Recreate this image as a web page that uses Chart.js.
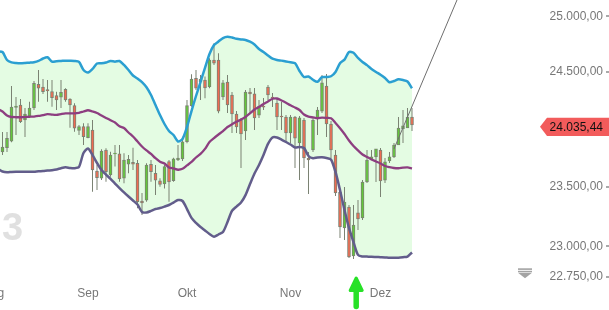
<!DOCTYPE html>
<html>
<head>
<meta charset="utf-8">
<script src="https://cdn.jsdelivr.net/npm/chart.js@4.4.1/dist/chart.umd.min.js"></script>
<style>
  html, body { margin: 0; padding: 0; background: #fff; overflow: hidden; }
  #wrap { position: absolute; left: -40px; top: 0; width: 649px; height: 310px; }
</style>
</head>
<body>
<div id="wrap"><canvas id="myChart" width="649" height="310"></canvas></div>
<script>
const ctx = document.getElementById("myChart").getContext("2d");

// x axis: one slot per trading day, index 0 = 1 Aug
const monthStart = [0, 21, 43, 66, 86];
const monthLabels = ["Aug", "Sep", "Okt", "Nov", "Dez"];
const yTicks = [22750, 23000, 23500, 24500, 25000];

// daily candles
const open = [
  23960, 23560, 23801, 23838, 23895, 24187, 24209, 24078, 24107, 24183,
  24391, 24367, 24345, 24326, 24291, 24277, 24347, 24262, 24203, 23988,
  24020, 23924, 23991, 23637, 23575, 23818, 23603, 23784, 23784, 23575,
  23695, 23712, 23704, 23382, 23390, 23695, 23618, 23554, 23526, 23718,
  23554, 23732, 23741, 23889, 24203, 24444, 24411, 24429, 24367, 24607,
  24607, 24279, 24411, 24297, 24130, 24078, 23982, 24323, 24306, 24121,
  24200, 24367, 24279, 24226, 24113, 24104, 23965, 24104, 23878, 24078,
  23749, 23818, 24096, 24156, 24376, 24043, 23775, 23458, 23155, 23331,
  22921, 23281, 23239, 23543, 23732, 23758, 23818, 23560, 23723, 23758,
  23861, 24000, 24008, 24104
];
const high = [
  24000, 23790, 23974, 23974, 24376, 24279, 24262, 24183, 24238, 24420,
  24518, 24438, 24429, 24429, 24326, 24429, 24356, 24268, 24224, 24034,
  24049, 24049, 24078, 23689, 23824, 23833, 23803, 23861, 23861, 23789,
  23775, 23838, 23732, 23450, 23704, 23732, 23689, 23575, 23689, 23732,
  23752, 23861, 23933, 24253, 24480, 24518, 24474, 24459, 24622, 24756,
  24666, 24429, 24474, 24323, 24156, 24096, 24341, 24359, 24359, 24253,
  24270, 24385, 24315, 24270, 24235, 24121, 24121, 24113, 24113, 24096,
  23801, 24096, 24191, 24474, 24482, 24069, 23818, 23475, 23501, 23348,
  23348, 23390, 23560, 23818, 23818, 23827, 23836, 23749, 23801, 23878,
  24104, 24165, 24183, 24183
];
const low = [
  23420, 23500, 23775, 23801, 23884, 23947, 24052, 23930, 24096, 24165,
  24238, 24306, 24238, 24194, 24165, 24183, 24238, 24011, 23976, 23947,
  23861, 23919, 23460, 23475, 23560, 23545, 23589, 23675, 23545, 23532,
  23618, 23646, 23320, 23264, 23376, 23545, 23432, 23503, 23489, 23376,
  23545, 23723, 23723, 23875, 24194, 24341, 24253, 24268, 24356, 24563,
  24136, 24253, 24139, 23965, 23965, 23663, 23904, 24139, 23991, 24096,
  24165, 24253, 24191, 23991, 23991, 23887, 23878, 23663, 23560, 23663,
  23441, 23801, 23947, 24139, 23930, 23749, 23424, 23071, 23054, 22905,
  22896, 23138, 23222, 23535, 23732, 23543, 23416, 23535, 23706, 23749,
  23861, 23878, 24008, 23982
];
const close = [
  23430, 23760, 23844, 23919, 24191, 24200, 24063, 24130, 24183, 24400,
  24356, 24326, 24332, 24273, 24253, 24321, 24253, 24209, 24006, 24020,
  23933, 24020, 23646, 23580, 23809, 23631, 23775, 23792, 23569, 23732,
  23738, 23695, 23376, 23365, 23689, 23631, 23560, 23523, 23675, 23545,
  23741, 23749, 23889, 24203, 24438, 24356, 24438, 24359, 24607, 24578,
  24156, 24403, 24209, 24130, 24017, 23956, 24323, 24306, 24096, 24200,
  24191, 24297, 24270, 24104, 24104, 23965, 24104, 23921, 24096, 23749,
  23732, 24078, 24165, 24403, 24043, 23818, 23450, 23163, 23373, 22913,
  23180, 23230, 23543, 23732, 23758, 23827, 23552, 23715, 23758, 23861,
  24008, 24026, 24104, 24035.44
];

// Bollinger bands
const bbUpper = [
  24687, 24683, 24678, 24607, 24585, 24580, 24578, 24580, 24583, 24587,
  24598, 24620, 24631, 24592, 24596, 24598, 24601, 24600, 24598, 24589,
  24518, 24496, 24527, 24576, 24578, 24585, 24598, 24592, 24598, 24563,
  24518, 24469, 24442, 24411, 24365, 24297, 24209, 24121, 24043, 23982,
  23947, 23891, 23913, 24017, 24156, 24288, 24411, 24536, 24660, 24740,
  24772, 24803, 24815, 24808, 24796, 24790, 24786, 24770, 24745, 24705,
  24678, 24647, 24618, 24607, 24601, 24594, 24586, 24578, 24509, 24456,
  24460, 24431, 24414, 24454, 24456, 24462, 24500, 24578, 24610, 24678,
  24671, 24625, 24589, 24561, 24527, 24500, 24476, 24447, 24409, 24420,
  24435, 24429, 24416, 24356
];
const bbMid = [
  24191, 24174, 24152, 24117, 24104, 24102, 24102, 24104, 24106, 24108,
  24113, 24121, 24129, 24125, 24123, 24130, 24136, 24136, 24136, 24141,
  24152, 24163, 24152, 24139, 24117, 24096, 24075, 24056, 24023, 24008,
  23969, 23934, 23891, 23848, 23814, 23784, 23747, 23717, 23702, 23668,
  23659, 23648, 23656, 23685, 23715, 23753, 23784, 23827, 23887, 23921,
  23952, 23982, 24017, 24041, 24063, 24082, 24104, 24136, 24169, 24191,
  24218, 24240, 24264, 24266, 24249, 24229, 24206, 24187, 24165, 24126,
  24107, 24100, 24093, 24098, 24096, 24093, 24052, 24006, 23956, 23900,
  23852, 23814, 23779, 23758, 23736, 23719, 23702, 23680, 23670, 23663,
  23661, 23666, 23668, 23660
];
const bbLower = [
  23663, 23655, 23633, 23626, 23629, 23631, 23631, 23631, 23631, 23631,
  23635, 23637, 23641, 23644, 23650, 23661, 23669, 23663, 23661, 23672,
  23792, 23831, 23775, 23706, 23646, 23607, 23570, 23530, 23492, 23455,
  23420, 23386, 23352, 23289, 23285, 23298, 23314, 23323, 23335, 23348,
  23369, 23390, 23382, 23314, 23239, 23197, 23163, 23134, 23104, 23082,
  23100, 23121, 23205, 23298, 23335, 23369, 23432, 23526, 23616, 23689,
  23775, 23870, 23926, 23926, 23908, 23887, 23865, 23839, 23844, 23835,
  23766, 23747, 23753, 23755, 23749, 23736, 23629, 23475, 23306, 23155,
  23037, 22930, 22917, 22916, 22915, 22913, 22911, 22909, 22906, 22906,
  22907, 22911, 22916, 22950
];

// drawn trend line (start / end)
const trendIdx = [89, 104];
const trendVal = [23827, 25244];

const lastPrice = close[close.length - 1];
const arrowIdx = 80.6;

const UP = "#63c73b";
const DOWN = "#ef6b52";
const EDGE = "#7b8273";
const FONT = "'Liberation Sans', Arial, sans-serif";

const fmt = (v) => {
  const [a, b] = Number(v).toFixed(2).split(".");
  return a.replace(/\B(?=(\d{3})+(?!\d))/g, ".") + "," + b;
};

const toPoints = (arr) => arr.map((v, i) => ({ x: i, y: v }));

const bodies = open.map((o, i) => {
  let lo = Math.min(o, close[i]);
  let hi = Math.max(o, close[i]);
  if (hi - lo < 8) { const m = (hi + lo) / 2; lo = m - 4; hi = m + 4; }
  return { x: i, y: [lo, hi] };
});
const wicks = open.map((o, i) => ({ x: i, y: [low[i], high[i]] }));
const candleColors = open.map((o, i) => (close[i] >= o ? UP : DOWN));

// extra drawing: watermark, price tag, tick dashes, icons
const decor = {
  id: "decor",
  beforeDatasetsDraw(chart) {
    const c = chart.ctx;
    c.save();
    c.fillStyle = "#e0e0e0";
    c.font = "bold 38px " + FONT;
    c.textBaseline = "alphabetic";
    c.fillText("3", 42, 240);
    c.restore();
  },
  afterDraw(chart) {
    const c = chart.ctx;
    const ys = chart.scales.y;
    const xs = chart.scales.x;
    const W = chart.width;
    c.save();

    // small tick dashes at the right edge
    c.fillStyle = "#555";
    yTicks.forEach((v) => c.fillRect(W - 3, Math.round(ys.getPixelForValue(v)) - 0.5, 3, 1));

    // last price tag
    const py = ys.getPixelForValue(lastPrice) + 2;
    c.fillStyle = "#f25b5b";
    c.beginPath();
    c.moveTo(W - 69, py);
    c.lineTo(W - 62, py - 9.2);
    c.lineTo(W, py - 9.2);
    c.lineTo(W, py + 9.2);
    c.lineTo(W - 62, py + 9.2);
    c.closePath();
    c.fill();
    c.fillStyle = "#111";
    c.font = "12px " + FONT;
    c.textAlign = "right";
    c.textBaseline = "middle";
    c.fillText(fmt(lastPrice), W - 6, py + 0.5);

    // collapse icon
    c.fillStyle = "#a3a3a3";
    c.fillRect(558, 268.3, 14, 1.6);
    c.fillRect(558, 270.8, 14, 1.4);
    c.beginPath();
    c.moveTo(558, 272.7);
    c.lineTo(572, 272.7);
    c.lineTo(565, 278.3);
    c.closePath();
    c.fill();

    // green arrow
    const cx = xs.getPixelForValue(arrowIdx);
    c.fillStyle = "#27e127";
    c.strokeStyle = "#27e127";
    c.lineJoin = "round";
    c.lineCap = "round";
    c.lineWidth = 3;
    c.beginPath();
    c.moveTo(cx, 278);
    c.lineTo(cx + 6, 290.5);
    c.lineTo(cx - 6, 290.5);
    c.closePath();
    c.fill();
    c.stroke();
    c.lineWidth = 5.5;
    c.beginPath();
    c.moveTo(cx, 284);
    c.lineTo(cx, 306.5);
    c.stroke();

    c.restore();
  }
};

const myChart = new Chart(ctx, {
  type: "bar",
  data: {
    datasets: [
      {
        type: "line", label: "Upper", data: toPoints(bbUpper), order: 0,
        borderColor: "#2b9fd1", borderWidth: 2.5, pointRadius: 0, tension: 0.25, fill: false
      },
      {
        type: "line", label: "Mid", data: toPoints(bbMid), order: 0,
        borderColor: "#8d3e80", borderWidth: 2.3, pointRadius: 0, tension: 0.25, fill: false
      },
      {
        type: "line", label: "Lower", data: toPoints(bbLower), order: 0,
        borderColor: "#625d8b", borderWidth: 2.5, pointRadius: 0, tension: 0.25,
        fill: "-2", backgroundColor: "#e4fce3"
      },
      {
        type: "line", label: "Trend", order: 0,
        data: trendIdx.map((x, i) => ({ x: x, y: trendVal[i] })),
        borderColor: "#6e6e6e", borderWidth: 1, pointRadius: 0, fill: false
      },
      {
        label: "Body", data: bodies, order: 1, grouped: false,
        barThickness: 3, backgroundColor: candleColors,
        borderColor: EDGE, borderWidth: 1, borderSkipped: false
      },
      {
        label: "Wick", data: wicks, order: 2, grouped: false,
        barThickness: 1, inflateAmount: 0, backgroundColor: EDGE, borderWidth: 0
      }
    ]
  },
  options: {
    responsive: false,
    animation: false,
    devicePixelRatio: 1,
    events: [],
    layout: { padding: { left: 0, right: 6, top: 0, bottom: 9 } },
    plugins: {
      legend: { display: false },
      tooltip: { enabled: false },
      filler: { propagate: false, drawTime: "beforeDatasetsDraw" }
    },
    scales: {
      x: {
        type: "linear",
        min: -7.444,
        max: 114.556,
        offset: false,
        grid: { display: false, drawTicks: false },
        border: { display: false },
        afterBuildTicks: (s) => { s.ticks = monthStart.map((v) => ({ value: v })); },
        afterFit: (s) => { s.height = 18; s.paddingLeft = 0; s.paddingRight = 0; },
        ticks: {
          autoSkip: false, maxRotation: 0, padding: 3,
          color: "#777", font: { family: FONT, size: 12 },
          callback: (v) => monthLabels[monthStart.indexOf(v)] || ""
        }
      },
      y: {
        type: "logarithmic",
        position: "right",
        min: 22698,
        max: 25147,
        grid: { display: false, drawTicks: false },
        border: { display: false },
        afterBuildTicks: (s) => { s.ticks = yTicks.map((v) => ({ value: v })); },
        afterFit: (s) => { s.width = 94; s.paddingTop = 0; s.paddingBottom = 0; },
        ticks: {
          crossAlign: "far", padding: 0,
          color: "#777", font: { family: FONT, size: 12 },
          callback: (v) => fmt(v)
        }
      }
    }
  },
  plugins: [decor]
});
</script>
</body>
</html>
